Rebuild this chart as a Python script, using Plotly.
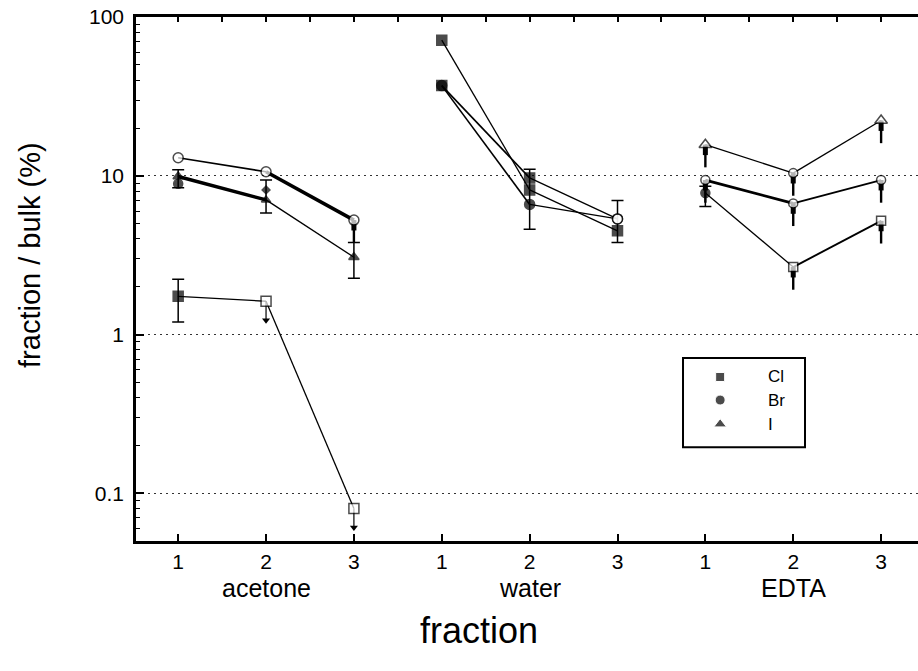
import math
import plotly.graph_objects as go

# ---------------- data ----------------
tick_x = [1, 2, 3, 4, 5, 6, 7, 8, 9]
tick_text = ["1", "2", "3", "1", "2", "3", "1", "2", "3"]
groups = ["acetone", "water", "EDTA"]
group_x = [2, 5, 8]
legend_names = ["Cl", "Br", "I"]

x_acetone = [1, 2, 3]
x_water = [4, 5, 6]
x_edta = [7, 8, 9]

# acetone
acetone_cl = [1.74, 1.62, 0.080]
acetone_cl_lo = [1.2, None, None]
acetone_cl_hi = [2.23, None, None]
acetone_br_ul = [13.0, 10.6, 5.26]
acetone_i = [9.9, 7.05, 3.07]
acetone_i_lo = [8.4, 5.83, 2.26]
acetone_i_hi = [10.9, 9.4, 3.8]
acetone_br = [8.9, 8.15]          # at fractions 1, 2

# water
water_cl_a = [71.5, 8.15, 4.5]
water_cl_a_lo = [None, None, 3.8]
water_cl_a_hi = [None, None, 7.0]
water_cl_b = [37.0, 9.7, 5.35]
water_br = [37.0, 6.6, 5.35]
water_br_lo = [None, 4.6, None]
water_br_hi = [None, 11.0, None]

# EDTA
edta_i = [15.7, 10.4, 22.3]
edta_br = [9.4, 6.7, 9.4]
edta_cl = [7.8, 2.66, 5.2]
edta_cl_lo = [6.4, None, None]
edta_cl_hi = [8.6, None, None]

# ---------------- styles ----------------
BLACK = "black"
series = [
    dict(x=x_acetone, y=acetone_cl, lo=acetone_cl_lo, hi=acetone_cl_hi,
         sym=["square", "square", "square"], open=[False, True, True],
         size=[10, 10, 10], seg=[1.3, 1.3], ul=[None, "arrow", "arrow"]),
    dict(x=x_acetone, y=acetone_br_ul, lo=None, hi=None,
         sym=["circle"] * 3, open=[True, True, True],
         size=[10, 10, 10], seg=[1.6, 3.6], ul=[None, None, "drop"]),
    dict(x=x_acetone, y=acetone_i, lo=acetone_i_lo, hi=acetone_i_hi,
         sym=["triangle-up"] * 3, open=[False] * 3,
         size=[9, 8, 9], seg=[3.4, 1.3], ul=[None, None, None]),
    dict(x=x_acetone[:2], y=acetone_br, lo=None, hi=None,
         sym=["circle", "diamond"], open=[False, False],
         size=[9, 6], seg=[0], ul=[None, None]),
    dict(x=x_water, y=water_cl_a, lo=water_cl_a_lo, hi=water_cl_a_hi,
         sym=["square"] * 3, open=[False] * 3,
         size=[10, 10, 10], seg=[1.3, 1.3], ul=[None, None, None]),
    dict(x=x_water, y=water_cl_b, lo=None, hi=None,
         sym=["square", "square", "circle"], open=[False, False, True],
         size=[10, 10, 10], seg=[1.6, 1.3], ul=[None, None, None]),
    dict(x=x_water, y=water_br, lo=water_br_lo, hi=water_br_hi,
         sym=["circle", "circle", "circle"], open=[False, False, True],
         size=[10, 10, 10], seg=[1.6, 1.3], ul=[None, None, None]),
    dict(x=x_edta, y=edta_i, lo=None, hi=None,
         sym=["triangle-up", "circle", "triangle-up"], open=[True] * 3,
         size=[11, 9, 11], seg=[1.3, 1.3], ul=["drop"] * 3),
    dict(x=x_edta, y=edta_br, lo=None, hi=None,
         sym=["circle"] * 3, open=[True] * 3,
         size=[9, 9, 9], seg=[2.8, 1.8], ul=["drop"] * 3),
    dict(x=x_edta, y=edta_cl, lo=edta_cl_lo, hi=edta_cl_hi,
         sym=["circle", "square", "square"], open=[False, True, True],
         size=[9, 9, 9], seg=[1.3, 1.9], ul=[None, "drop", "drop"]),
]

fig = go.Figure()

# lines
for s in series:
    for k, w in enumerate(s["seg"]):
        if w <= 0:
            continue
        fig.add_trace(go.Scatter(
            x=s["x"][k:k + 2], y=s["y"][k:k + 2], mode="lines",
            line=dict(color=BLACK, width=w), hoverinfo="skip", showlegend=False))

# upper-limit tails / arrows
for s in series:
    for xv, yv, u in zip(s["x"], s["y"], s["ul"]):
        if u == "arrow":
            fig.add_trace(go.Scatter(
                x=[xv, xv], y=[yv, yv * 0.76], mode="lines",
                line=dict(color=BLACK, width=1.2), hoverinfo="skip", showlegend=False))
            fig.add_trace(go.Scatter(
                x=[xv], y=[yv * 0.76], mode="markers",
                marker=dict(symbol="triangle-down", size=7, color=BLACK),
                hoverinfo="skip", showlegend=False))
        elif u == "drop":
            fig.add_trace(go.Scatter(
                x=[xv, xv], y=[yv, yv * 0.86], mode="lines",
                line=dict(color=BLACK, width=5), hoverinfo="skip", showlegend=False))
            fig.add_trace(go.Scatter(
                x=[xv, xv], y=[yv, yv * 0.72], mode="lines",
                line=dict(color=BLACK, width=2.4), hoverinfo="skip", showlegend=False))

# error bars
for s in series:
    if s["lo"] is None:
        continue
    xs, ys, plus, minus = [], [], [], []
    for xv, yv, lo, hi in zip(s["x"], s["y"], s["lo"], s["hi"]):
        if lo is None:
            continue
        xs.append(xv)
        ys.append(yv)
        plus.append(hi - yv)
        minus.append(yv - lo)
    fig.add_trace(go.Scatter(
        x=xs, y=ys, mode="markers", marker=dict(size=1, color=BLACK),
        error_y=dict(type="data", symmetric=False, array=plus, arrayminus=minus,
                     color=BLACK, thickness=1.5, width=6),
        hoverinfo="skip", showlegend=False))

# markers
for s in series:
    fig.add_trace(go.Scatter(
        x=s["x"], y=s["y"], mode="markers",
        marker=dict(
            symbol=s["sym"], size=s["size"],
            color=["white" if o else BLACK for o in s["open"]],
            line=dict(color=BLACK, width=1.5)),
        hoverinfo="skip", showlegend=False))

# ---------------- manual legend ----------------
leg_x0, leg_x1, leg_y0, leg_y1 = 0.6995, 0.8555, 0.179, 0.349
leg_mx, leg_tx = 0.747, 0.806
leg_rows = [0.313, 0.269, 0.223]
leg_syms = ["square", "circle", "triangle-up"]
fig.add_trace(go.Scatter(
    x=[leg_mx] * 3, y=leg_rows, mode="markers", xaxis="x3", yaxis="y3",
    marker=dict(symbol=leg_syms, size=[9, 10, 11], color=BLACK),
    hoverinfo="skip", showlegend=False))
fig.add_shape(type="rect", xref="paper", yref="paper",
              x0=leg_x0, x1=leg_x1, y0=leg_y0, y1=leg_y1,
              line=dict(color=BLACK, width=2))
for name, ry in zip(legend_names, leg_rows):
    fig.add_annotation(x=leg_tx, y=ry, xref="paper", yref="paper", text=name,
                       showarrow=False, xanchor="left", yanchor="middle",
                       font=dict(size=17, color=BLACK))

# group labels
for g, gx in zip(groups, group_x):
    fig.add_annotation(x=gx, y=-0.09, xref="x", yref="paper", text=g,
                       showarrow=False, xanchor="center", yanchor="middle",
                       font=dict(size=25, color=BLACK))

# axis titles
fig.add_annotation(x=0.4386, y=-0.17, xref="paper", yref="paper", text="fraction",
                   showarrow=False, xanchor="center", yanchor="middle",
                   font=dict(size=36, color=BLACK))
fig.add_annotation(x=-0.1355, y=0.546, xref="paper", yref="paper",
                   text="fraction / bulk (%)", textangle=-90,
                   showarrow=False, xanchor="center", yanchor="middle",
                   font=dict(size=29, color=BLACK))

minor_vals = []
for dec in [0.01, 0.1, 1, 10]:
    for m in range(2, 10):
        v = m * dec
        if 0.05 <= v <= 100:
            minor_vals.append(v)

xr = [0.52, 9.42]
yr = [math.log10(0.05), 2.0005]
# dummy traces so the overlay axes are drawn
fig.add_trace(go.Scatter(x=[1], y=[1], xaxis="x2", yaxis="y", mode="markers",
                         marker=dict(size=1, opacity=0), hoverinfo="skip",
                         showlegend=False))
fig.add_trace(go.Scatter(x=[1], y=[1], xaxis="x", yaxis="y2", mode="markers",
                         marker=dict(size=1, opacity=0), hoverinfo="skip",
                         showlegend=False))
fig.update_layout(
    width=918, height=671,
    margin=dict(l=136, r=0, t=17, b=130),
    plot_bgcolor="rgba(0,0,0,0)", paper_bgcolor="white",
    showlegend=False,
    font=dict(family="Liberation Sans, Arial, sans-serif", color=BLACK),
    xaxis=dict(range=xr, tickvals=tick_x, ticktext=tick_text,
               ticks="inside", ticklen=7, tickwidth=1.5, tickcolor=BLACK,
               showline=True, linewidth=2.5, linecolor=BLACK,
               showgrid=False, zeroline=False, tickfont=dict(size=21)),
    xaxis2=dict(range=xr, overlaying="x", side="top", anchor="y",
                tickvals=[v / 2 for v in range(1, 20)],
                ticks="inside", ticklen=5, tickwidth=1.5, tickcolor=BLACK,
                showticklabels=False, showline=True, linewidth=2.5,
                linecolor=BLACK, showgrid=False, zeroline=False),
    yaxis=dict(type="log", range=yr,
               tickvals=[0.1, 1, 10, 100], ticktext=["0.1", "1", "10", "100"],
               ticks="inside", ticklen=8, tickwidth=1.5, tickcolor=BLACK,
               showline=True, linewidth=2.5, linecolor=BLACK,
               showgrid=True, gridcolor="#333", gridwidth=1, griddash="2px,4px",
               zeroline=False, tickfont=dict(size=21), ticklabelstandoff=5,
               ticklabeloverflow="allow"),
    yaxis2=dict(type="log", range=yr, overlaying="y", side="left", anchor="x",
                tickvals=minor_vals, ticks="inside", ticklen=4, tickwidth=1.2,
                tickcolor=BLACK, showticklabels=False, showgrid=False,
                zeroline=False, showline=False),
    xaxis3=dict(domain=[0, 1], range=[0, 1], visible=False, anchor="y3"),
    yaxis3=dict(domain=[0, 1], range=[0, 1], visible=False, anchor="x3"),
)

fig.write_html(
    "out.html",
    config={"displayModeBar": False},
    post_script="document.body.style.margin='0';document.body.style.overflow='hidden';",
)
